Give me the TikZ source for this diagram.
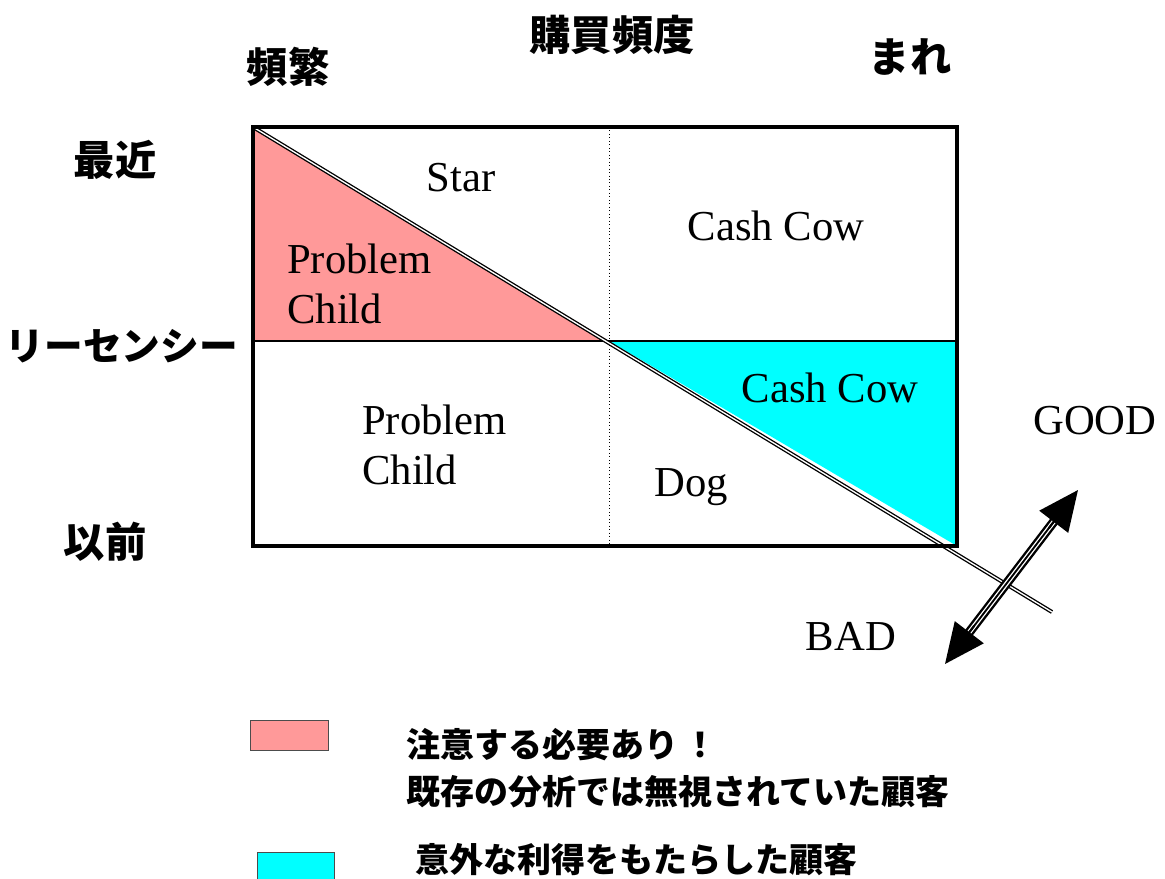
\documentclass[tikz,border=0pt]{standalone}
\usepackage{fontspec}
\setmainfont{Liberation Serif}
\newfontfamily\jp{Noto Sans CJK JP}
\usetikzlibrary{arrows.meta,calc}
\definecolor{pinkfill}{HTML}{FF9999}
\definecolor{cyanfill}{HTML}{00FFFF}
\tikzset{
  jlabel/.style={font=\jp\bfseries\fontsize{31}{34}\selectfont, inner sep=0pt},
  legtext/.style={font=\jp\bfseries\fontsize{25.5}{35}\selectfont, inner sep=0pt, anchor=west, align=left},
  qlabel/.style={font=\fontsize{32}{38}\selectfont, inner sep=0pt},
  frame/.style={line width=3pt},
  diag/.style={double, line width=1pt, double distance=1pt},
  shaft/.style={double, line width=1.8pt, double distance=3.4pt},
  midline/.style={line width=1.4pt},
  tip/.style={-{Triangle[length=30pt,width=27pt]}, line width=1.6pt},
  legbox/.style={draw=black!70, line width=0.6pt}
}
\begin{document}
\begin{tikzpicture}[x=0.75pt,y=-0.75pt]
\useasboundingbox (0,0) rectangle (1165,879);
% corners
\coordinate (TL) at (253,127);
\coordinate (TR) at (957,127);
\coordinate (BR) at (957,546);
\coordinate (BL) at (253,546);
\coordinate (ML) at (253,341);
\coordinate (MR) at (957,341);
\coordinate (MC) at (609,341);
\coordinate (TC) at (609,127);
\coordinate (BC) at (609,546);
\coordinate (DE) at (1052,612);
% fills
\fill[pinkfill] (TL) -- (ML) -- (MC) -- cycle;
\fill[cyanfill] (MC) -- (MR) -- (BR) -- cycle;
% dividers
\draw[dotted, line width=0.6pt] (TC) -- (BC);
\draw[line width=1pt] (ML) -- (MR);
% diagonal
\draw[diag] (TL) -- (DE);
% frame
\draw[frame] (TL) rectangle (BR);
% double arrow
\coordinate (A1) at (945,664);
\coordinate (A2) at (1078,490);
\draw[shaft, shorten <=24pt, shorten >=24pt] (A1) -- (A2);
\draw[midline, shorten <=24pt, shorten >=24pt] (A1) -- (A2);
\draw[tip] ($(A1)!0.22!(A2)$) -- (A1);
\draw[tip] ($(A2)!0.22!(A1)$) -- (A2);
% axis labels
\node[jlabel] (freq) at (612,35) {購買頻度};
\node[jlabel] (often) at (288,67) {頻繁};
\node[jlabel] (rare) at (910,57) {まれ};
\node[jlabel] (recent) at (115,160) {最近};
\node[jlabel, font=\jp\bfseries\fontsize{29}{32}\selectfont] (rec) at (122,346) {リーセンシー};
\node[jlabel] (before) at (105,542) {以前};
% quadrant labels
\node[qlabel] (star) at (461,178) {Star};
\node[qlabel, anchor=west, align=left] (pc1) at (287,284) {Problem\\Child};
\node[qlabel] (cc1) at (776,226) {Cash Cow};
\node[qlabel, anchor=west, align=left] (pc2) at (362,445) {Problem\\Child};
\node[qlabel] (cc2) at (830,388) {Cash Cow};
\node[qlabel] (dog) at (691,487) {Dog};
\node[qlabel] (good) at (1095,421) {GOOD};
\node[qlabel] (bad) at (851,636) {BAD};
% legend
\draw[legbox, fill=pinkfill] (250,720) rectangle (328,750);
\draw[legbox, fill=cyanfill] (257,852) rectangle (334,885);
\node[legtext] (leg1) at (406,768) {注意する必要あり\,！\\既存の分析では無視されていた顧客};
\node[legtext] (leg2) at (415,860) {意外な利得をもたらした顧客};
\end{tikzpicture}
\end{document}
